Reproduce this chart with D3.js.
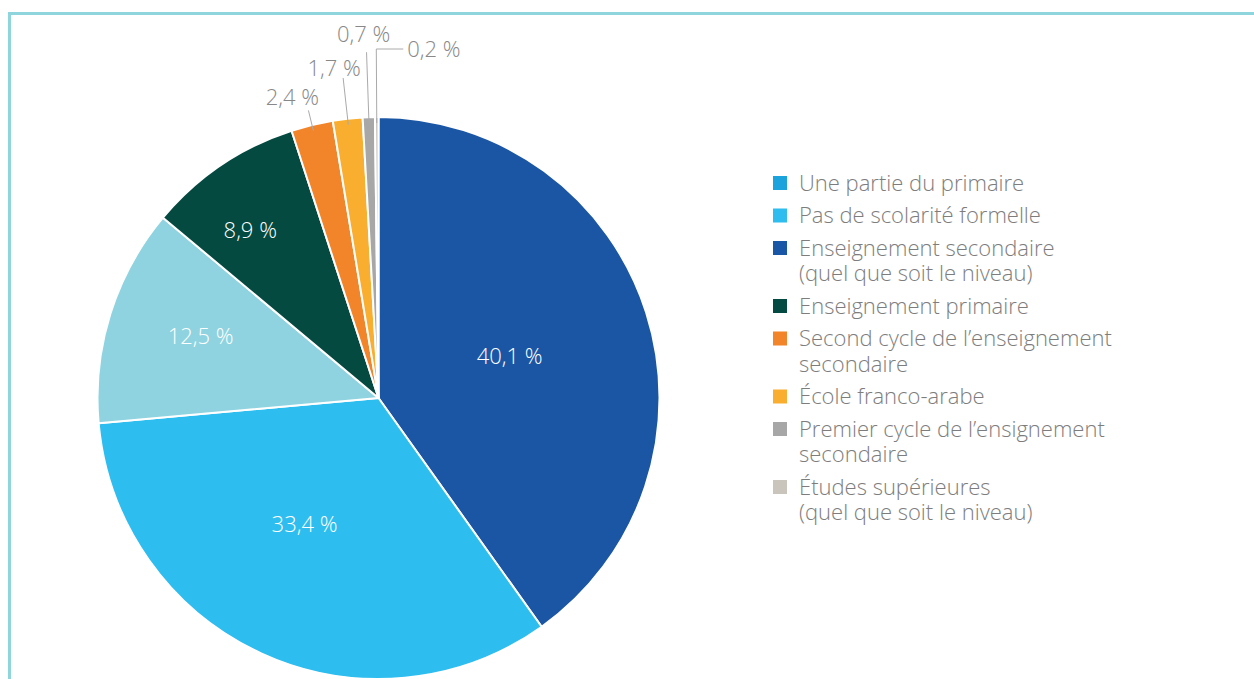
<!DOCTYPE html>
<html>
<head>
<meta charset="utf-8">
<script src="https://cdn.jsdelivr.net/npm/d3@7"></script>
<style>
  body { margin: 0; background: #fff; }
  svg { display: block; font-family: "Open Sans", "Noto Sans", sans-serif; font-weight: 300; }
</style>
</head>
<body>
<svg id="chart" width="1254" height="679"></svg>
<script>
'use strict';

// pie slices, clockwise from the top
var sliceValues = [40.1, 33.4, 12.5, 8.9, 2.4, 1.7, 0.7, 0.2];
var sliceLabels = ['40,1 %', '33,4 %', '12,5 %', '8,9 %', '2,4 %', '1,7 %', '0,7 %', '0,2 %'];
var sliceColors = ['#1b56a5', '#2dbdef', '#8ed3df', '#044a41', '#f28429', '#f9ae2f', '#a7a7a7', '#c9c5bd'];

// legend entries, as printed
var legendLabels = [
  ['Une partie du primaire'],
  ['Pas de scolarité formelle'],
  ['Enseignement secondaire', '(quel que soit le niveau)'],
  ['Enseignement primaire'],
  ['Second cycle de l\u2019enseignement', 'secondaire'],
  ['École franco-arabe'],
  ['Premier cycle de l\u2019ensignement', 'secondaire'],
  ['Études supérieures', '(quel que soit le niveau)']
];
var legendColors = ['#1ba3de', '#2ebdee', '#1a56a6', '#054a42', '#f28429', '#f9ae2f', '#a7a7a7', '#c9c5bd'];

var svg = d3.select('#chart');
var cx = 378.5, cy = 398, r = 281;
var fontSize = '22px';

// frame
svg.append('path')
  .attr('d', 'M9.5,679 L9.5,13.5 L1254,13.5')
  .attr('fill', 'none')
  .attr('stroke', '#8fd5de')
  .attr('stroke-width', 3);

var pie = d3.pie().sort(null).value(function(d) { return d; });
var arcs = pie(sliceValues);
var arc = d3.arc().innerRadius(0).outerRadius(r);

var g = svg.append('g').attr('transform', 'translate(' + cx + ',' + cy + ')');

g.selectAll('path.slice')
  .data(arcs)
  .enter().append('path')
  .attr('class', 'slice')
  .attr('d', arc)
  .attr('fill', function(d, i) { return sliceColors[i]; })
  .attr('stroke', '#fff')
  .attr('stroke-width', 2)
  .attr('stroke-linejoin', 'round');

// inside labels: radius fraction per big slice
var insideRadius = [0.49, 0.52, 0.67, 0.75];
var insideTurn = [0, 0.1, 0.03, -0.06];
arcs.slice(0, 4).forEach(function(d, i) {
  var a = (d.startAngle + d.endAngle) / 2 + insideTurn[i];
  var rho = r * insideRadius[i];
  g.append('text')
    .attr('x', rho * Math.sin(a))
    .attr('y', -rho * Math.cos(a))
    .attr('dy', '0.35em')
    .attr('text-anchor', 'middle')
    .style('font-size', fontSize)
    .style('fill', '#fff')
    .text(sliceLabels[i]);
});

// outside labels with leader lines
var outside = [
  { extra: 15, dx: -16, dy: -5 },
  { extra: 41, dx: -9, dy: -2 },
  { extra: 65, dx: -3, dy: -10 },
  { extra: 68, elbow: 27 }
];
arcs.slice(4).forEach(function(d, k) {
  var i = k + 4;
  var o = outside[k];
  var a = (d.startAngle + d.endAngle) / 2;
  var x0 = (r - 6) * Math.sin(a), y0 = -(r - 6) * Math.cos(a);
  var x1 = (r + o.extra) * Math.sin(a), y1 = -(r + o.extra) * Math.cos(a);
  var pts = [[x0, y0], [x1, y1]];
  if (o.elbow) {
    pts.push([x1 + o.elbow, y1]);
  }
  g.append('path')
    .attr('d', d3.line()(pts))
    .attr('fill', 'none')
    .attr('stroke', '#aaa')
    .attr('stroke-width', 1);
  var t = g.append('text')
    .style('font-size', fontSize)
    .style('fill', '#888')
    .text(sliceLabels[i]);
  if (o.elbow) {
    t.attr('x', x1 + o.elbow + 4).attr('y', y1).attr('dy', '0.35em');
  } else {
    t.attr('x', x1 + o.dx).attr('y', y1 + o.dy).attr('text-anchor', 'middle');
  }
});

// legend
var lineH = 25.5, gap = 7;
var ly = 183;
var legend = svg.append('g');
legendLabels.forEach(function(lines, i) {
  legend.append('rect')
    .attr('x', 773)
    .attr('y', ly - 7)
    .attr('width', 14)
    .attr('height', 14)
    .attr('fill', legendColors[i]);
  var t = legend.append('text')
    .attr('x', 799)
    .attr('y', ly)
    .style('font-size', fontSize)
    .style('fill', '#7d7d7d');
  lines.forEach(function(s, j) {
    t.append('tspan')
      .attr('x', 799)
      .attr('dy', j === 0 ? '0.35em' : lineH)
      .text(s);
  });
  ly += lines.length * lineH + gap;
});
</script>
</body>
</html>
